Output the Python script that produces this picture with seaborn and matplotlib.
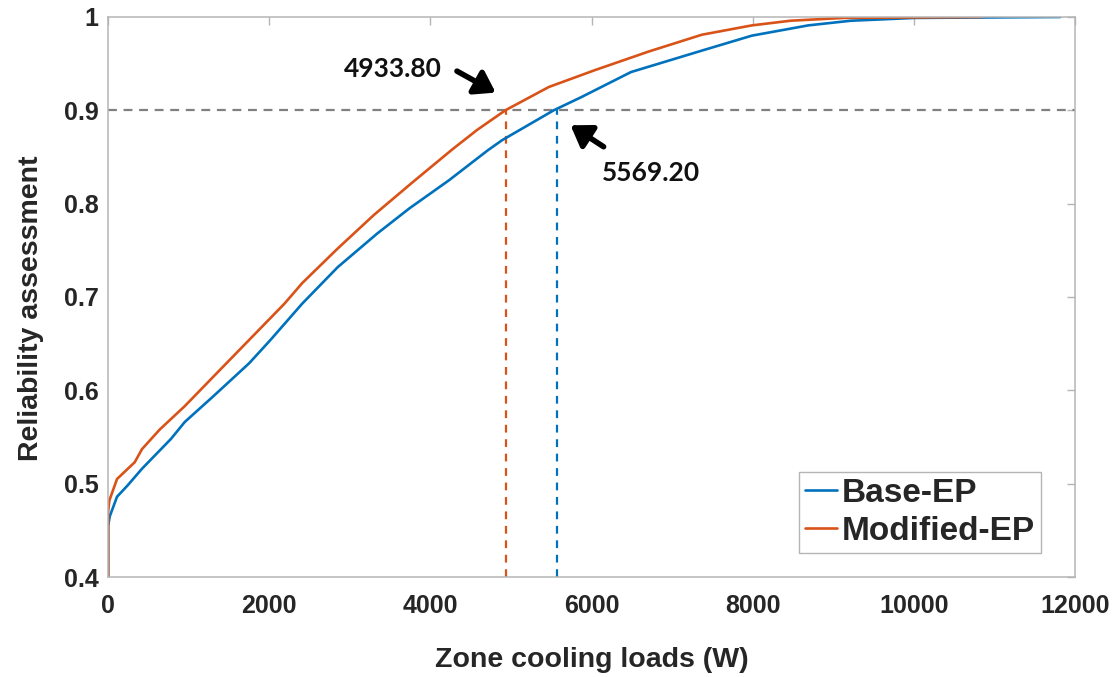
import pandas as pd
import numpy as np
import seaborn as sns
import matplotlib.pyplot as plt

base_x = [0, 0, 20, 110, 240, 420, 780, 950, 1310, 1750, 2015, 2410, 2850, 3340,
          3740, 4230, 4710, 4890, 5530, 5870, 6490, 7370, 7990, 8690, 9220, 10010, 11820]
base_y = [0.40, 0.455, 0.465, 0.486, 0.498, 0.516, 0.548, 0.566, 0.594, 0.629, 0.654,
          0.693, 0.732, 0.768, 0.795, 0.825, 0.857, 0.868, 0.900, 0.914, 0.941, 0.964,
          0.980, 0.991, 0.996, 0.999, 1.0]
mod_x = [0, 0, 15, 110, 330, 420, 640, 950, 1310, 1750, 2190, 2410, 2850, 3300, 3780,
         4270, 4580, 4930, 5470, 6040, 6710, 7370, 7990, 8470, 9130, 10850]
mod_y = [0.40, 0.47, 0.482, 0.505, 0.523, 0.537, 0.558, 0.583, 0.615, 0.654, 0.693,
         0.715, 0.752, 0.788, 0.823, 0.858, 0.879, 0.900, 0.925, 0.943, 0.963, 0.981,
         0.991, 0.996, 0.999, 1.0]
series = ["Base-EP", "Modified-EP"]
level = 0.9
cross_x = [5569.20, 4933.80]  # Base, Modified
x_ticks = [0, 2000, 4000, 6000, 8000, 10000, 12000]
y_ticks = [0.4, 0.5, 0.6, 0.7, 0.8, 0.9, 1.0]
y_ticklabels = ["0.4", "0.5", "0.6", "0.7", "0.8", "0.9", "1"]

df = pd.concat([
    pd.DataFrame({"load": base_x, "rel": base_y, "case": series[0]}),
    pd.DataFrame({"load": mod_x, "rel": mod_y, "case": series[1]}),
])

colors = {"Base-EP": "#0072BD", "Modified-EP": "#D95319"}

sns.set_style("white")
plt.rcParams["font.family"] = ["Liberation Sans", "DejaVu Sans"]
plt.rcParams["font.weight"] = "bold"

fig = plt.figure(figsize=(11.15, 6.77), dpi=100)
ax = fig.add_axes([0.097, 0.1477, 0.867, 0.8272])

sns.lineplot(data=df, x="load", y="rel", hue="case", palette=colors,
             estimator=None, sort=True, lw=1.9, ax=ax)

# threshold lines
ax.axhline(level, color="#808080", ls=(0, (4, 3)), lw=1.6, zorder=1)
for xc, c in zip(cross_x, series):
    ax.vlines(xc, 0.4, level, color=colors[c], ls=(0, (3.5, 3)), lw=1.6, zorder=1)

# annotations with arrows
arrow = dict(arrowstyle="-|>,head_length=0.6,head_width=0.4", lw=4, color="black",
             shrinkA=0, shrinkB=0, mutation_scale=20)
ax.annotate("", xy=(4810, 0.919), xytext=(4330, 0.942), arrowprops=arrow)
ax.text(3540, 0.944, "4933.80", ha="center", va="center", fontsize=19,
        fontweight="bold", family=["Lato", "DejaVu Sans"], color="#111111")
ax.annotate("", xy=(5740, 0.884), xytext=(6150, 0.861), arrowprops=arrow)
ax.text(6733, 0.833, "5569.20", ha="center", va="center", fontsize=19,
        fontweight="bold", family=["Lato", "DejaVu Sans"], color="#111111")

ax.set_xlim(0, 12000)
ax.set_ylim(0.4, 1.0)
ax.set_xticks(x_ticks)
ax.set_xticklabels([str(t) for t in x_ticks])
ax.set_yticks(y_ticks)
ax.set_yticklabels(y_ticklabels)

for s in ax.spines.values():
    s.set_color("#b5b5b5")
    s.set_linewidth(1.1)
ax.tick_params(direction="in", length=6, width=1, color="#b5b5b5",
               top=True, right=True, labelsize=18, labelcolor="#262626")
ax.tick_params(axis="x", pad=12)
ax.tick_params(axis="y", pad=7)

ax.set_xlabel("Zone cooling loads (W)", fontsize=20.5, fontweight="bold", color="#262626")
ax.set_ylabel("Reliability assessment", fontsize=20.5, fontweight="bold", color="#262626")
ax.xaxis.set_label_coords(0.5, -0.125)
ax.yaxis.set_label_coords(-0.066, 0.48)

h, l = ax.get_legend_handles_labels()
leg = ax.legend(h, l, loc="lower right", bbox_to_anchor=(0.965, 0.043),
                borderaxespad=0, fontsize=24, handlelength=0.95, handletextpad=0.15,
                labelspacing=0.22, borderpad=0.18, fancybox=False, framealpha=1,
                edgecolor="#b5b5b5")
leg.get_frame().set_linewidth(1.0)
for t in leg.get_texts():
    t.set_fontweight("bold")

fig.savefig("out.png", dpi=100)
